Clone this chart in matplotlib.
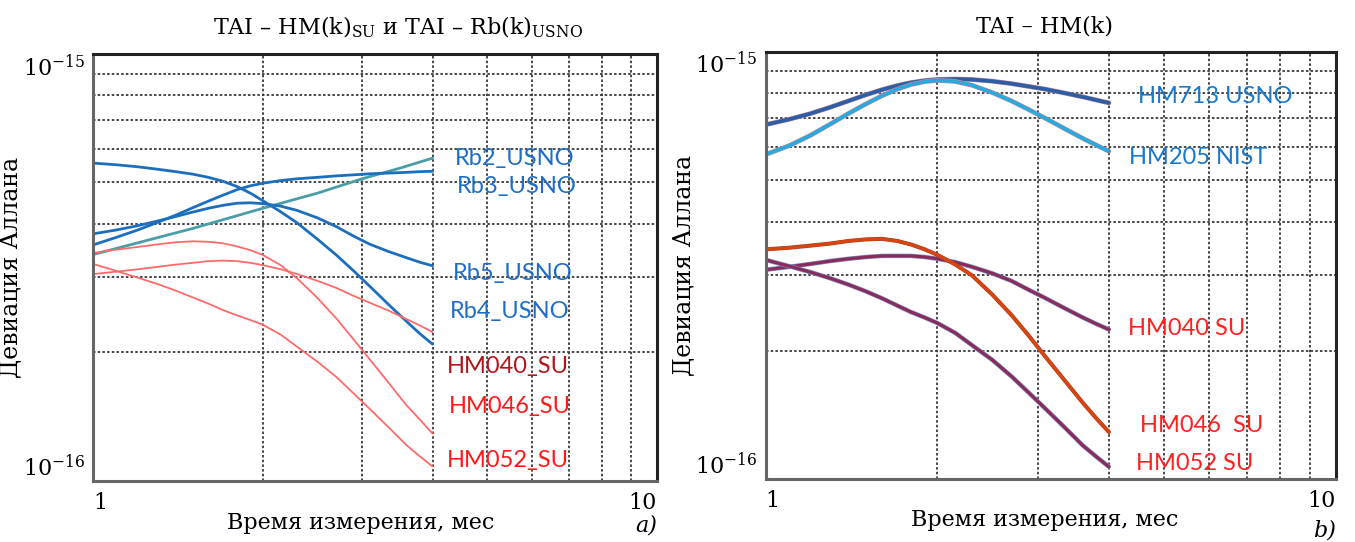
import numpy as np
import matplotlib
matplotlib.use("Agg")
import matplotlib.pyplot as plt
import matplotlib.patheffects as pe

plt.rcParams['font.family'] = ['DejaVu Serif']
plt.rcParams['mathtext.fontset'] = 'dejavuserif'

# DATA (Allan deviation in units of 1e-16, time in months)
x_ref = [1.0, 1.1, 1.2, 1.3, 1.4, 1.5, 1.6, 1.7, 1.8, 1.9, 2.0,
         2.15, 2.3, 2.5, 2.7, 2.9, 3.1, 3.35, 3.6, 3.8, 4.0]

# panel a) -- Rb USNO and HM SU
rb2_x = [1, 1.5, 2, 2.5, 3, 3.5, 4]
rb2_usno = [3.39, 3.90, 4.35, 4.72, 5.10, 5.40, 5.70]
rb3_usno = [3.57, 3.72, 3.87, 4.03, 4.19, 4.36, 4.52, 4.67, 4.81, 4.91, 4.98,
            5.05, 5.10, 5.14, 5.18, 5.21, 5.24, 5.26, 5.28, 5.30, 5.31]
rb5_usno = [3.79, 3.87, 3.96, 4.06, 4.16, 4.26, 4.35, 4.42, 4.47, 4.48, 4.46,
            4.40, 4.30, 4.13, 3.94, 3.74, 3.58, 3.44, 3.33, 3.25, 3.19]
rb4_usno = [5.55, 5.50, 5.44, 5.37, 5.30, 5.23, 5.14, 5.03, 4.89, 4.72, 4.53,
            4.27, 4.02, 3.68, 3.38, 3.10, 2.85, 2.58, 2.36, 2.21, 2.09]
hm040_a = [3.05, 3.09, 3.13, 3.17, 3.21, 3.24, 3.27, 3.28, 3.27, 3.24, 3.20,
           3.13, 3.05, 2.94, 2.83, 2.71, 2.61, 2.50, 2.39, 2.31, 2.23]
hm046_a = [3.42, 3.48, 3.53, 3.58, 3.62, 3.64, 3.63, 3.60, 3.54, 3.47, 3.38,
           3.20, 2.98, 2.68, 2.40, 2.14, 1.92, 1.69, 1.50, 1.39, 1.29]
hm052_a = [3.22, 3.10, 2.99, 2.89, 2.79, 2.69, 2.60, 2.51, 2.44, 2.38, 2.32,
           2.20, 2.06, 1.90, 1.75, 1.60, 1.47, 1.33, 1.21, 1.14, 1.08]

# panel b) -- HM only
hm713_usno = [6.75, 6.95, 7.17, 7.42, 7.68, 7.93, 8.15, 8.33, 8.47, 8.56, 8.61,
              8.63, 8.61, 8.53, 8.42, 8.29, 8.17, 8.00, 7.84, 7.71, 7.59]
hm205_nist = [5.75, 6.03, 6.38, 6.78, 7.18, 7.55, 7.89, 8.17, 8.38, 8.51, 8.57,
              8.52, 8.35, 8.02, 7.67, 7.31, 6.98, 6.60, 6.27, 6.05, 5.85]
hm040_b = [3.09, 3.14, 3.19, 3.24, 3.28, 3.31, 3.33, 3.33, 3.33, 3.31, 3.28,
           3.22, 3.14, 3.03, 2.91, 2.77, 2.65, 2.51, 2.39, 2.31, 2.24]
hm046_b = [3.45, 3.48, 3.52, 3.56, 3.61, 3.64, 3.65, 3.61, 3.54, 3.45, 3.35,
           3.18, 3.00, 2.70, 2.42, 2.16, 1.93, 1.70, 1.51, 1.39, 1.29]
hm052_b = [3.26, 3.15, 3.05, 2.95, 2.85, 2.75, 2.65, 2.55, 2.46, 2.39, 2.32,
           2.20, 2.06, 1.90, 1.74, 1.59, 1.46, 1.32, 1.20, 1.13, 1.07]

scale = 1e-16

W, H = 1355, 542
fig = plt.figure(figsize=(W / 100, H / 100), dpi=100)

ax1 = fig.add_axes([93.3 / W, 1 - 480.7 / H, 563.4 / W, 426.7 / H])
ax2 = fig.add_axes([765.7 / W, 1 - 479.3 / H, 570 / W, 427.6 / H])


def setup(ax):
    ax.set_xscale('log')
    ax.set_yscale('log')
    ax.set_xlim(1, 10)
    ax.set_ylim(1e-16, 1e-15)
    ax.set_xticks([1, 10])
    ax.set_xticks([2, 3, 4, 5, 6, 7, 8, 9], minor=True)
    ax.set_yticks([1e-16, 1e-15])
    ax.set_yticks([k * 1e-16 for k in range(2, 10)], minor=True)
    ax.set_xticklabels(['1', '10'], fontsize=16)
    ax.set_yticklabels([r'$10^{-16}$', r'$10^{-15}$'], fontsize=16)
    ax.set_xticklabels([], minor=True)
    ax.set_yticklabels([], minor=True)
    ax.tick_params(which='both', length=0)
    ax.tick_params(axis='x', pad=8)
    ax.tick_params(axis='y', pad=6)
    xl = ax.get_xticklabels()
    xl[0].set_ha('left')
    xl[1].set_ha('right')
    yl = ax.get_yticklabels()
    yl[0].set_va('bottom')
    yl[1].set_va('top')
    ax.grid(which='both', color='#3a3a3a', linestyle=(0, (1.4, 1.2)), linewidth=1.3)
    for s in ax.spines.values():
        s.set_linewidth(2.2)
        s.set_color('#222222')
    ax.spines['left'].set_color('#666666')
    ax.spines['bottom'].set_color('#666666')
    ax.set_xlabel('Время измерения, мес', fontsize=16)
    ax.set_ylabel('Девиация Аллана', fontsize=17)


setup(ax1)
setup(ax2)
ax1.yaxis.set_label_coords(-0.127, 0.5)
ax2.yaxis.set_label_coords(-0.124, 0.5)
ax1.xaxis.set_label_coords(0.475, -0.073)
ax2.xaxis.set_label_coords(0.49, -0.07)

sc = lambda v: np.array(v) * scale
rnd = dict(solid_joinstyle='round', solid_capstyle='round')

# panel a
ax1.plot(rb2_x, sc(rb2_usno), color='#4a9ea8', lw=2, **rnd)
ax1.plot(x_ref, sc(rb3_usno), color='#1d6fbe', lw=2, **rnd)
ax1.plot(x_ref, sc(rb5_usno), color='#1d6fbe', lw=2, **rnd)
ax1.plot(x_ref, sc(rb4_usno), color='#1d6fbe', lw=2, **rnd)
for ys in (hm040_a, hm046_a, hm052_a):
    ax1.plot(x_ref, sc(ys), color='#ff6b6b', lw=1.3, **rnd)

lab = dict(fontsize=17, family='Lato', ha='center', va='center', transform=ax1.transAxes)
ax1.text(0.7485, 0.7556, 'Rb2_USNO', color='#1e6ec8', **lab)
ax1.text(0.7515, 0.689, 'Rb3_USNO', color='#1e6ec8', **lab)
ax1.text(0.745, 0.486, 'Rb5_USNO', color='#1e6ec8', **lab)
ax1.text(0.7396, 0.396, 'Rb4_USNO', color='#1e6ec8', **lab)
ax1.text(0.736, 0.267, 'HM040_SU', color='#b3141c', **lab)
ax1.text(0.7396, 0.173, 'HM046_SU', color='#ff1a1a', **lab)
ax1.text(0.736, 0.0485, 'HM052_SU', color='#ff1a1a', **lab)

ax1.set_title(r'TAI – HM(k)$_{\mathrm{SU}}$ и TAI – Rb(k)$_{\mathrm{USNO}}$',
              fontsize=16, x=0.54, pad=14)
ax1.text(1.0, -0.105, 'a)', style='italic', fontsize=16, ha='right', va='center',
         transform=ax1.transAxes)

# panel b
ax2.plot(x_ref, sc(hm713_usno), color='#2c5ea8', lw=2.6, **rnd,
         path_effects=[pe.Stroke(linewidth=3.4, foreground='#b08090'), pe.Normal()])
ax2.plot(x_ref, sc(hm205_nist), color='#2aa8df', lw=2.6, **rnd,
         path_effects=[pe.Stroke(linewidth=3.4, foreground='#c09090'), pe.Normal()])
for ys in (hm040_b, hm052_b):
    ax2.plot(x_ref, sc(ys), color='#8a2c5a', lw=2.2, **rnd,
             path_effects=[pe.Stroke(linewidth=3.2, foreground='#7a86c0'), pe.Normal()])
ax2.plot(x_ref, sc(hm046_b), color='#d8460e', lw=2.2, **rnd,
         path_effects=[pe.Stroke(linewidth=2.9, foreground='#a04030'), pe.Normal()])

lab2 = dict(fontsize=17, family='Lato', ha='center', va='center', transform=ax2.transAxes)
ax2.text(0.788, 0.8948, 'HM713 USNO', color='#1a78c8', **lab2)
ax2.text(0.7584, 0.753, 'HM205 NIST', color='#1a78c8', **lab2)
ax2.text(0.7386, 0.353, 'HM040 SU', color='#ff2020', **lab2)
ax2.text(0.765, 0.1253, 'HM046  SU', color='#ff2020', **lab2)
ax2.text(0.753, 0.0358, 'HM052 SU', color='#ff2020', **lab2)

ax2.set_title('TAI – HM(k)', fontsize=16, x=0.49, pad=14)
ax2.text(1.0, -0.12, 'b)', style='italic', fontsize=16, ha='right', va='center',
         transform=ax2.transAxes)

fig.savefig('out.png', dpi=100)
